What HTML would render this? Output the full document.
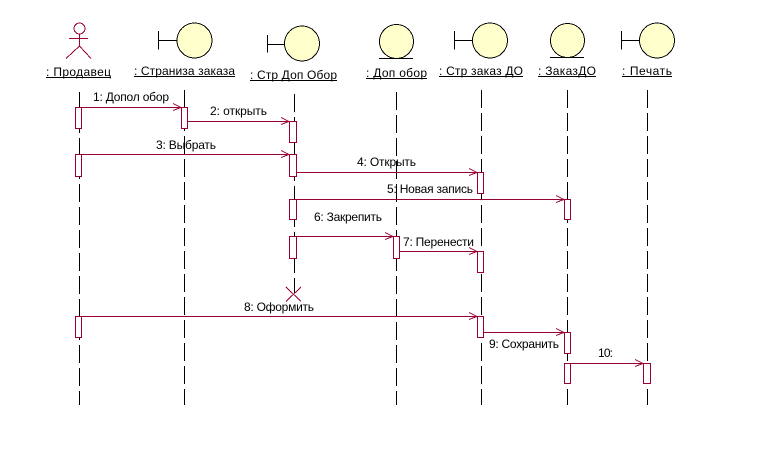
<!DOCTYPE html>
<html><head><meta charset="utf-8"><style>
html,body{margin:0;padding:0;background:#fff}
svg{display:block}
text{font-family:"Liberation Sans",Arial,sans-serif;font-size:12px;fill:#000}
.ll line{stroke:#000;stroke-width:1;stroke-dasharray:18 5;shape-rendering:crispEdges}
.b{fill:#fff;stroke:#990033;stroke-width:1;shape-rendering:crispEdges}
.m{stroke:#990033;stroke-width:1;fill:none;shape-rendering:crispEdges}
.k{stroke:#000;stroke-width:1;fill:none;shape-rendering:crispEdges}
.c{fill:#ffffcc;stroke:#000;stroke-width:1;shape-rendering:crispEdges}
</style></head><body>
<svg width="765" height="454" viewBox="0 0 765 454" xmlns="http://www.w3.org/2000/svg">
<rect width="765" height="454" fill="#fff"/>
<g class="ll">
<line x1="79.5" y1="92" x2="79.5" y2="405"/>
<line x1="184.5" y1="90" x2="184.5" y2="405"/>
<line x1="294.5" y1="94" x2="294.5" y2="293"/>
<line x1="396.5" y1="92" x2="396.5" y2="405"/>
<line x1="481.5" y1="90" x2="481.5" y2="405"/>
<line x1="567.5" y1="90" x2="567.5" y2="405"/>
<line x1="647.5" y1="90" x2="647.5" y2="405"/>
</g>
<!-- actor -->
<g class="m">
<circle cx="79.5" cy="28.5" r="5.5"/>
<path d="M79.5 34V46M69 38.5H88M79.5 46L66 58.5M79.5 46L91 58.5"/>
</g>
<!-- boundary / entity icons -->
<path class="k" d="M158.5 31V49.5M158.5 40.5H177"/>
<circle class="c" cx="194.5" cy="40.5" r="17.5"/>
<path class="k" d="M267.5 35V52.5M267.5 44.5H285"/>
<circle class="c" cx="302" cy="43.5" r="17.5"/>
<circle class="c" cx="396.5" cy="41.5" r="17"/>
<path class="k" d="M379 58.5H413"/>
<path class="k" d="M454.5 31V49.5M454.5 40.5H473"/>
<circle class="c" cx="490" cy="40.5" r="17.5"/>
<circle class="c" cx="567.5" cy="40.5" r="17"/>
<path class="k" d="M550 57.5H584"/>
<path class="k" d="M621.5 31V49.5M621.5 40.5H640"/>
<circle class="c" cx="657" cy="40.5" r="17.5"/>
<!-- object labels -->
<text x="46" y="76" textLength="65" lengthAdjust="spacing">: Продавец</text>
<path class="k" d="M46 77.5H111"/>
<text x="134" y="75" textLength="101" lengthAdjust="spacing">: Страниза заказа</text>
<path class="k" d="M134 76.5H235"/>
<text x="250" y="79" textLength="87" lengthAdjust="spacing">: Стр Доп Обор</text>
<path class="k" d="M250 80.5H337"/>
<text x="366" y="77" textLength="61" lengthAdjust="spacing">: Доп обор</text>
<path class="k" d="M366 78.5H427"/>
<text x="439" y="75" textLength="84" lengthAdjust="spacing">: Стр заказ ДО</text>
<path class="k" d="M439 76.5H523"/>
<text x="538" y="75" textLength="58" lengthAdjust="spacing">: ЗаказДО</text>
<path class="k" d="M538 76.5H596"/>
<text x="622" y="75" textLength="50" lengthAdjust="spacing">: Печать</text>
<path class="k" d="M622 76.5H672"/>
<!-- activation boxes -->
<rect class="b" x="75.5" y="107.5" width="6" height="21"/>
<rect class="b" x="181.5" y="107.5" width="6" height="21"/>
<rect class="b" x="289.5" y="121.5" width="7" height="21"/>
<rect class="b" x="75.5" y="154.5" width="6" height="22"/>
<rect class="b" x="289.5" y="154.5" width="7" height="22"/>
<rect class="b" x="477.5" y="172.5" width="6" height="21"/>
<rect class="b" x="289.5" y="199.5" width="7" height="20"/>
<rect class="b" x="564.5" y="199.5" width="6" height="20"/>
<rect class="b" x="289.5" y="236.5" width="7" height="22"/>
<rect class="b" x="393.5" y="236.5" width="6" height="22"/>
<rect class="b" x="477.5" y="251.5" width="6" height="21"/>
<rect class="b" x="75.5" y="316.5" width="6" height="21"/>
<rect class="b" x="477.5" y="316.5" width="6" height="21"/>
<rect class="b" x="564.5" y="332.5" width="6" height="21"/>
<rect class="b" x="564.5" y="363.5" width="6" height="20"/>
<rect class="b" x="643.5" y="363.5" width="7" height="20"/>
<!-- messages -->
<g class="m">
<path d="M81.5 107.5H181M173 103.5L181 107.5L173 110.5"/>
<path d="M187.5 121.5H289M281 117.5L289 121.5L281 124.5"/>
<path d="M81.5 154.5H289M281 150.5L289 154.5L281 157.5"/>
<path d="M296.5 172.5H477M469 168.5L477 172.5L469 175.5"/>
<path d="M296.5 199.5H564M556 195.5L564 199.5L556 202.5"/>
<path d="M296.5 236.5H393M385 232.5L393 236.5L385 239.5"/>
<path d="M399.5 251.5H477M469 247.5L477 251.5L469 254.5"/>
<path d="M81.5 316.5H477M469 312.5L477 316.5L469 319.5"/>
<path d="M483.5 332.5H564M556 328.5L564 332.5L556 335.5"/>
<path d="M570.5 363.5H643M635 359.5L643 363.5L635 366.5"/>
<path d="M286 287L301 301.5M301 287L286 301.5"/>
</g>
<!-- message labels -->
<text x="93" y="101" textLength="76" lengthAdjust="spacing">1: Допол обор</text>
<text x="210" y="115" textLength="57" lengthAdjust="spacing">2: открыть</text>
<text x="156" y="149" textLength="60" lengthAdjust="spacing">3: Выбрать</text>
<text x="357" y="166" textLength="59" lengthAdjust="spacing">4: Открыть</text>
<text x="387" y="193" textLength="86" lengthAdjust="spacing">5: Новая запись</text>
<text x="314" y="221" textLength="68" lengthAdjust="spacing">6: Закрепить</text>
<text x="403" y="246" textLength="71" lengthAdjust="spacing">7: Перенести</text>
<text x="244" y="311" textLength="70" lengthAdjust="spacing">8: Оформить</text>
<text x="489" y="348" textLength="70" lengthAdjust="spacing">9: Сохранить</text>
<text x="598" y="357" textLength="15" lengthAdjust="spacing">10:</text>
</svg>
</body></html>
